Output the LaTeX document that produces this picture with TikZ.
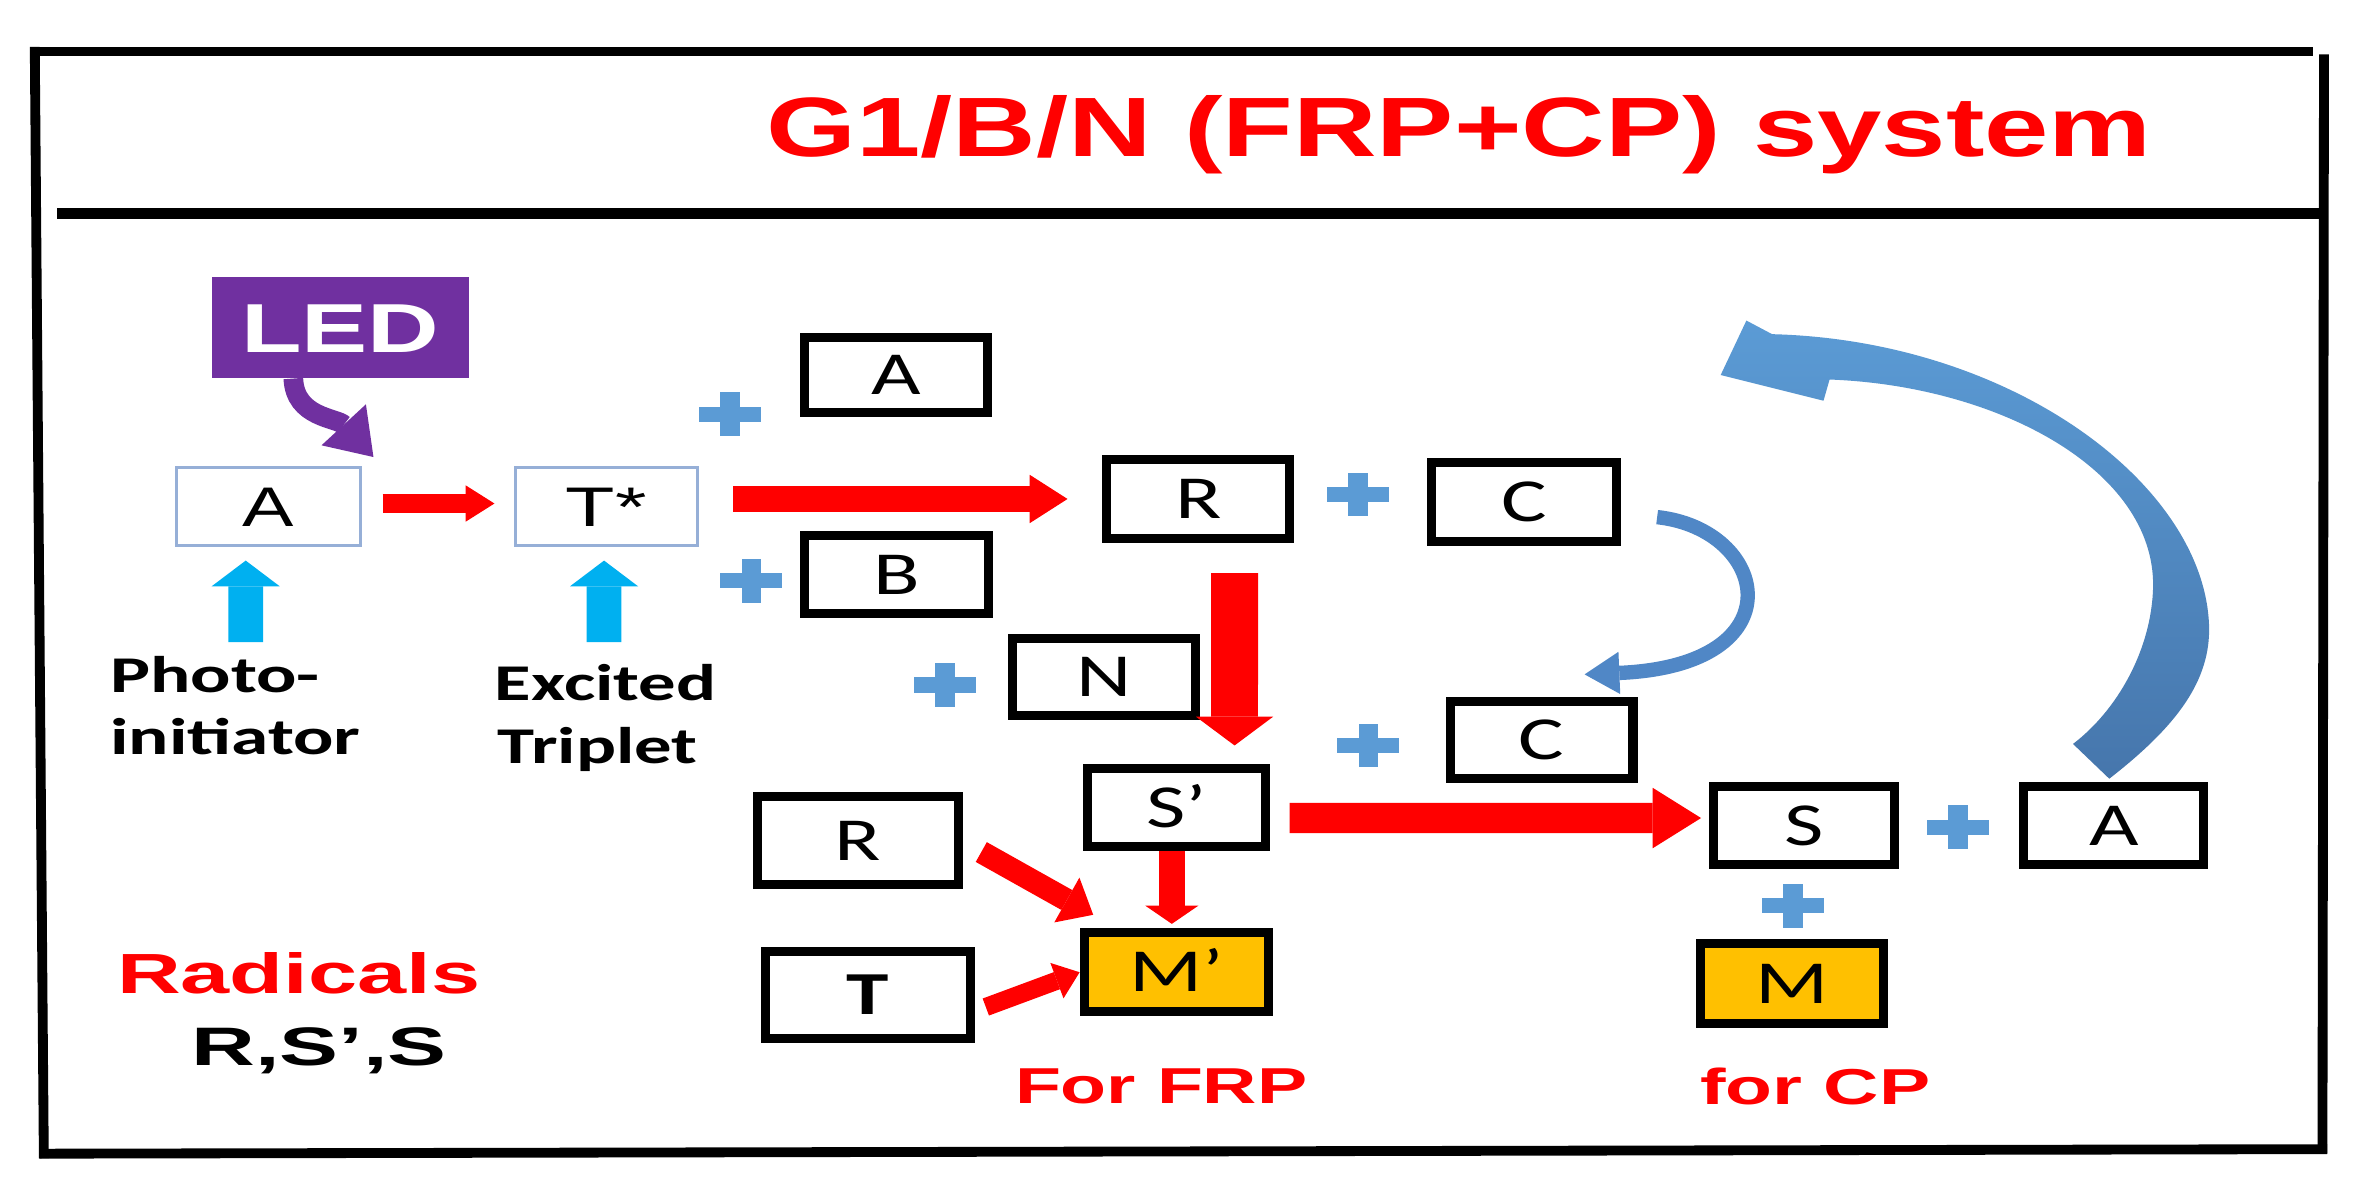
\documentclass[tikz,border=0pt]{standalone}
\usepackage{fontspec}
\usepackage{graphicx}
\usetikzlibrary{arrows.meta,calc}
\newfontfamily\arialf{Liberation Sans}
\newfontfamily\calf{Carlito}
\definecolor{bred}{RGB}{255,0,0}
\definecolor{pblue}{RGB}{91,155,213}
\definecolor{cyanA}{RGB}{0,176,240}
\definecolor{ledpurple}{RGB}{112,48,160}
\definecolor{morange}{RGB}{255,192,0}
\definecolor{arcdark}{RGB}{70,118,172}
\definecolor{arclight}{RGB}{91,155,213}
\definecolor{arcmid}{RGB}{80,135,198}
\definecolor{thinblue}{RGB}{150,175,215}
\newcommand{\wx}[2]{\scalebox{#1}[1]{#2}}
\begin{document}
\begin{tikzpicture}[x=0.02cm,y=-0.02cm,
  tbox/.style={draw=black, line width=0.12cm, inner sep=0pt, text height=0.52cm, text depth=0pt, font=\calf\fontsize{23pt}{27pt}\selectfont},
  thinbox/.style={draw=thinblue, line width=0.04cm, inner sep=0pt, text height=0.53cm, text depth=0pt, font=\arialf\fontsize{21pt}{25pt}\selectfont},
  barrow/.style n args={3}{line width=#1, -{Triangle[width=#2,length=#3,line width=0pt]}},
  lbl/.style={inner sep=0pt, font=\calf\bfseries\fontsize{19.4pt}{23pt}\selectfont},
  redlbl/.style={inner sep=0pt, text=bred, font=\arialf\bfseries\fontsize{19pt}{23pt}\selectfont},
  bplus/.pic={\fill[pblue] (-20.5,-5) rectangle (20.5,5); \fill[pblue] (-6.5,-14.5) rectangle (6.5,14.5);}
]
\useasboundingbox (0,0) rectangle (1568.1,785.05);
\fill[white] (0,0) rectangle (1568.1,785.05);
% frame
\draw[line width=0.12cm] (20,34) -- (1530,34);
\draw[line width=0.13cm] (23,31) -- (29,766);
\draw[line width=0.13cm] (1537,36) -- (1536,763);
\draw[line width=0.13cm] (26,763) -- (1539,760);
\draw[line width=0.15cm] (38,141) -- (1535,141);
% title
\node[anchor=base, inner sep=0pt, text=bred, font=\arialf\bfseries\fontsize{31.7pt}{36pt}\selectfont] (title) at (965,103.6) {\wx{1.374}{G1/B/N (FRP+CP) system}};
% LED
\node[fill=ledpurple, minimum width=3.4cm, minimum height=1.34cm, inner sep=0pt, text=white, text height=0.66cm, text depth=0pt, font=\arialf\bfseries\fontsize{26.1pt}{30pt}\selectfont] (LED) at (225,216.5) {\wx{1.43}{LED}};
% thin boxes
\node[thinbox, minimum width=2.44cm, minimum height=1.03cm] (A1) at (177.5,335) {\wx{1.38}{A}};
\node[thinbox, minimum width=2.40cm, minimum height=1.03cm] (Ts) at (401,335) {\wx{1.45}{T*}};
% thick boxes
\node[tbox, minimum width=2.42cm, minimum height=1.00cm] (A2) at (592.5,248) {\wx{1.4}{A}};
\node[tbox, minimum width=2.44cm, minimum height=1.04cm] (B) at (593,380) {\wx{1.4}{B}};
\node[tbox, minimum width=2.42cm, minimum height=1.04cm] (R1) at (792.5,330) {\wx{1.4}{R}};
\node[tbox, minimum width=2.44cm, minimum height=1.04cm] (C1) at (1008,332) {\wx{1.4}{C}};
\node[tbox, minimum width=2.42cm, minimum height=1.02cm] (N) at (730,447.5) {\wx{1.4}{N}};
\node[tbox, minimum width=2.42cm, minimum height=1.02cm] (C2) at (1019.5,489.5) {\wx{1.4}{C}};
\node[tbox, minimum width=2.36cm, minimum height=1.04cm] (Sp) at (778,534) {\wx{1.4}{S’}};
\node[tbox, minimum width=2.40cm, minimum height=1.04cm] (S) at (1193,546) {\wx{1.4}{S}};
\node[tbox, minimum width=2.38cm, minimum height=1.04cm] (A3) at (1398,546) {\wx{1.4}{A}};
\node[tbox, fill=morange, minimum width=2.42cm, minimum height=1.06cm] (M) at (1185,650.5) {\wx{1.4}{M}};
\node[tbox, fill=morange, minimum width=2.44cm, minimum height=1.04cm] (Mp) at (778,643) {\wx{1.4}{M’}};
\node[tbox, minimum width=2.66cm, minimum height=1.16cm] (R2) at (567.5,556) {\wx{1.4}{R}};
\node[tbox, minimum width=2.72cm, minimum height=1.16cm, font=\calf\bfseries\fontsize{23pt}{27pt}\selectfont] (T) at (574,658) {\wx{1.4}{T}};
% plus signs
\pic at (483,274) {bplus};
\pic at (497,384) {bplus};
\pic at (625,453) {bplus};
\pic at (898,327) {bplus};
\pic at (905,493) {bplus};
\pic at (1295,547) {bplus};
\pic at (1186,599) {bplus};
% labels
\node[lbl, anchor=base west] (ph1) at (72.5,457.7) {\wx{1.46}{Photo-}};
\node[lbl, anchor=base west] (ph2) at (72.5,499) {\wx{1.46}{initiator}};
\node[lbl, anchor=base west] (ex1) at (327,463.6) {\wx{1.45}{Excited}};
\node[lbl, anchor=base west] (ex2) at (329,505) {\wx{1.45}{Triplet}};
\node[redlbl, anchor=base, font=\arialf\bfseries\fontsize{21.3pt}{25pt}\selectfont] (rad) at (197.5,657) {\wx{1.56}{Radicals}};
\node[inner sep=0pt, anchor=base, font=\arialf\bfseries\fontsize{20.4pt}{25pt}\selectfont] (rss) at (211,705) {\wx{1.63}{R,S’,S}};
\node[redlbl, anchor=base] (frp) at (768,729.6) {\wx{1.49}{For FRP}};
\node[redlbl, anchor=base] (cp) at (1200.5,730.6) {\wx{1.52}{for CP}};
% LED arrow
\draw[ledpurple, barrow={0.26cm}{0.8cm}{0.58cm}] ([xshift=-0.62cm]LED.south) .. controls +(1,26) and +(-24,-26) .. ([xshift=0.15cm,yshift=0.12cm]A1.north east);
% cyan up arrows
\coordinate (upA) at ($(A1.south)+(-15,63)$);
\coordinate (upT) at ($(Ts.south)+(-1.5,63)$);
\draw[cyanA, barrow={0.46cm}{0.9cm}{0.34cm}, shorten >=0.18cm] (upA) -- ([xshift=-0.3cm]A1.south);
\draw[cyanA, barrow={0.46cm}{0.9cm}{0.34cm}, shorten >=0.18cm] (upT) -- ([xshift=-0.03cm]Ts.south);
% red arrows
\draw[bred, barrow={0.26cm}{0.48cm}{0.38cm}, shorten <=0.27cm, shorten >=0.26cm] ([yshift=0.04cm]A1.east) -- ([yshift=0.04cm]Ts.west);
\draw[bred, barrow={0.34cm}{0.64cm}{0.5cm}, shorten <=0.46cm, shorten >=0.46cm] (Ts.east |- R1.west) -- (R1.west);
\draw[bred, barrow={0.62cm}{1.02cm}{0.38cm}, shorten <=0.4cm, shorten >=0.24cm] ([xshift=0.48cm]R1.south) -- ([xshift=0.77cm]Sp.north);
\draw[bred, barrow={0.4cm}{0.8cm}{0.64cm}, shorten <=0.26cm, shorten >=0.1cm] ([yshift=-0.14cm]Sp.east) -- ([yshift=0.1cm]S.west);
\draw[bred, barrow={0.34cm}{0.7cm}{0.24cm}, shorten >=0.06cm] ([xshift=-0.06cm]Sp.south) -- ([xshift=-0.06cm]Mp.north);
\draw[bred, barrow={0.3cm}{0.68cm}{0.4cm}] ([xshift=0.24cm,yshift=-0.15cm]R2.east) -- ([xshift=0.18cm,yshift=0.18cm]Mp.north west);
\draw[bred, barrow={0.24cm}{0.5cm}{0.32cm}] ([xshift=0.14cm,yshift=-0.16cm]T.east) -- (Mp.west);
% small blue curved arrow C -> C
\draw[arcmid, barrow={0.19cm}{0.56cm}{0.46cm}] ([xshift=0.48cm,yshift=-0.2cm]C1.east) .. controls +(74,8) and +(142,-6) .. ([xshift=0.57cm,yshift=0.3cm]C2.north);
% big blue curved arrow from A
\shade[top color=arclight, bottom color=arcdark]
  (1395,515) .. controls (1440,480) and (1462,450) .. (1461,414)
  .. controls (1458,320) and (1330,225) .. (1172,221)
  -- (1155,212) -- (1138,248) -- (1206,265) -- (1210,251)
  .. controls (1320,255) and (1425,310) .. (1424,388)
  .. controls (1423,430) and (1400,470) .. (1371,492)
  -- cycle;
\end{tikzpicture}
\end{document}
